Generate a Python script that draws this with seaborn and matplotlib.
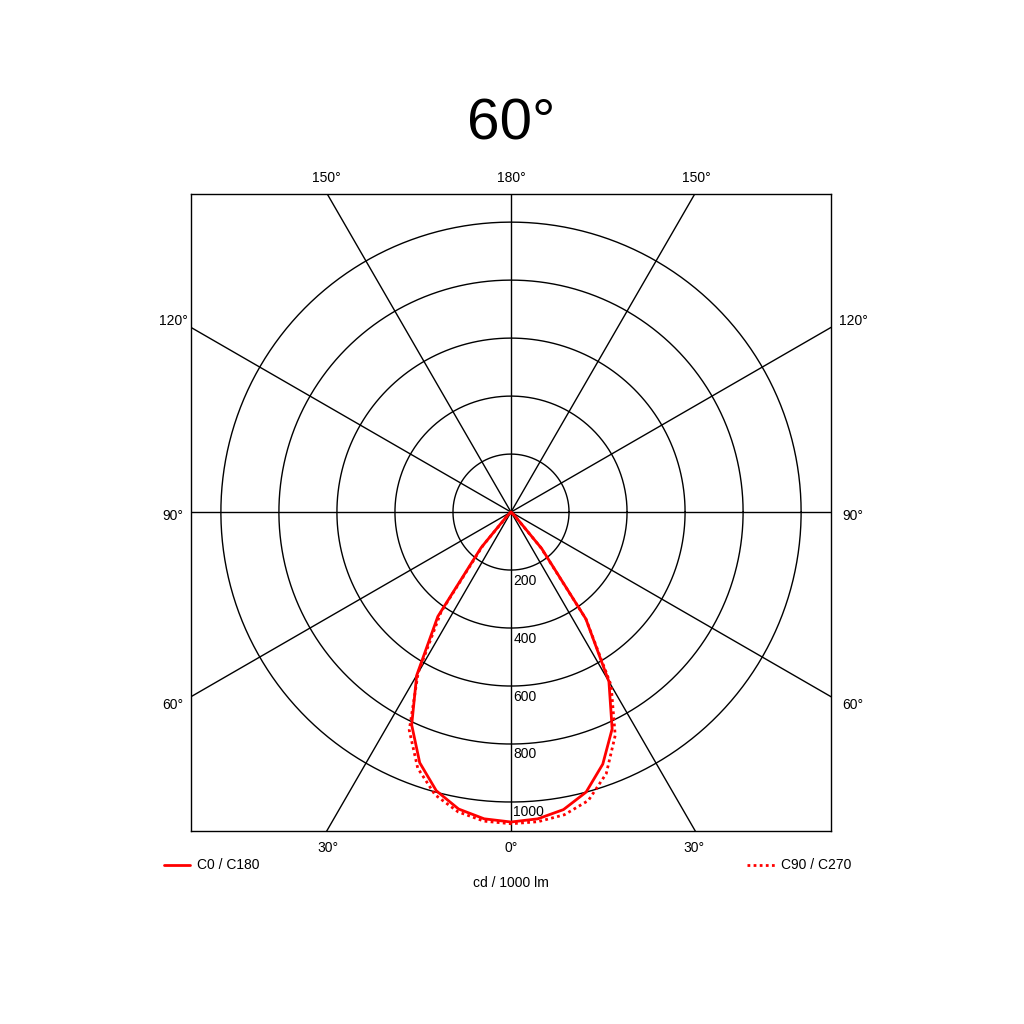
import numpy as np
import pandas as pd
import matplotlib
matplotlib.use("Agg")
import matplotlib.pyplot as plt
import seaborn as sns

sns.set_theme(style="white")
plt.rcParams['font.family'] = ['Liberation Sans', 'DejaVu Sans']
plt.rcParams['text.color'] = 'black'

gamma = [0, 5, 10, 15, 20, 25, 30, 35, 40, 45, 50, 90]
c0 = [1069, 1062, 1040, 995, 920, 810, 650, 440, 160, 20, 0, 0]
c180 = [1069, 1062, 1042, 1000, 925, 825, 675, 450, 165, 20, 0, 0]
c90 = [1075, 1070, 1050, 1010, 940, 830, 640, 420, 150, 15, 0, 0]
c270 = [1075, 1072, 1060, 1030, 960, 850, 690, 450, 160, 15, 0, 0]
rings = [200, 400, 600, 800, 1000]
spokes = [0, 30, 60, 90, 120, 150]

def half(vals, sign):
    g = np.radians(gamma)
    v = np.array(vals, float)
    return sign * v * np.sin(g), -v * np.cos(g)

rows = []
for name, a, b in [("C0 / C180", c0, c180), ("C90 / C270", c90, c270)]:
    x1, y1 = half(a, -1)
    x2, y2 = half(b, 1)
    xs = np.concatenate([x1[::-1], x2[1:]])
    ys = np.concatenate([y1[::-1], y2[1:]])
    for i, (x, y) in enumerate(zip(xs, ys)):
        rows.append(dict(curve=name, x=x, y=y, o=i))
df = pd.DataFrame(rows)

fig = plt.figure(figsize=(10.24, 10.24), dpi=100)
ax = fig.add_axes([191/1024, 193/1024, 640/1024, 637/1024])
ax.set_xlim(-1103, 1103)
ax.set_ylim(-1100, 1097)

t = np.linspace(0, 2*np.pi, 400)
for r in rings:
    ax.plot(r*np.cos(t), r*np.sin(t), color='black', lw=1)
for s in spokes:
    a = np.radians(s)
    L = 3000
    ax.plot([-L*np.sin(a), L*np.sin(a)], [L*np.cos(a), -L*np.cos(a)], color='black', lw=1)
for r in rings:
    ax.text(8, -r - 12, str(r), fontsize=10, ha='left', va='top', color='black')

for name, ls in [("C0 / C180", '-'), ("C90 / C270", (0, (1, 1.2)))]:
    d = df[df.curve == name]
    sns.lineplot(data=d, x='x', y='y', sort=False, estimator=None, ax=ax,
                 color='red', lw=2, linestyle=ls)

ax.set_xticks([]); ax.set_yticks([])
ax.set_xlabel(''); ax.set_ylabel('')
for sp in ax.spines.values():
    sp.set_color('black'); sp.set_linewidth(1)

def ft(x, y, s, **kw):
    fig.text(x/1024, 1 - y/1024, s, fontsize=10, ha='center', va='center', color='black', **kw)
ft(511, 848, "0°"); ft(328, 848, "30°"); ft(694, 848, "30°")
ft(511, 178, "180°"); ft(326, 178, "150°"); ft(696, 178, "150°")
for y, s in [(705, "60°"), (516, "90°"), (321, "120°")]:
    ft(173, y, s); ft(853, y, s)
ft(511, 883, "cd / 1000 lm")
fig.text(511/1024, 1 - 125/1024, "60°", fontsize=42, ha='center', va='center', color='black')
fig.add_artist(plt.Line2D([164/1024, 190/1024], [1-865/1024]*2, color='red', lw=2))
fig.text(197/1024, 1-865/1024, "C0 / C180", fontsize=10, va='center', color='black')
fig.add_artist(plt.Line2D([747/1024, 775/1024], [1-865/1024]*2, color='red', lw=2, ls=(0, (1, 1.2))))
fig.text(781/1024, 1-865/1024, "C90 / C270", fontsize=10, va='center', color='black')

fig.savefig("out.png", dpi=100)
